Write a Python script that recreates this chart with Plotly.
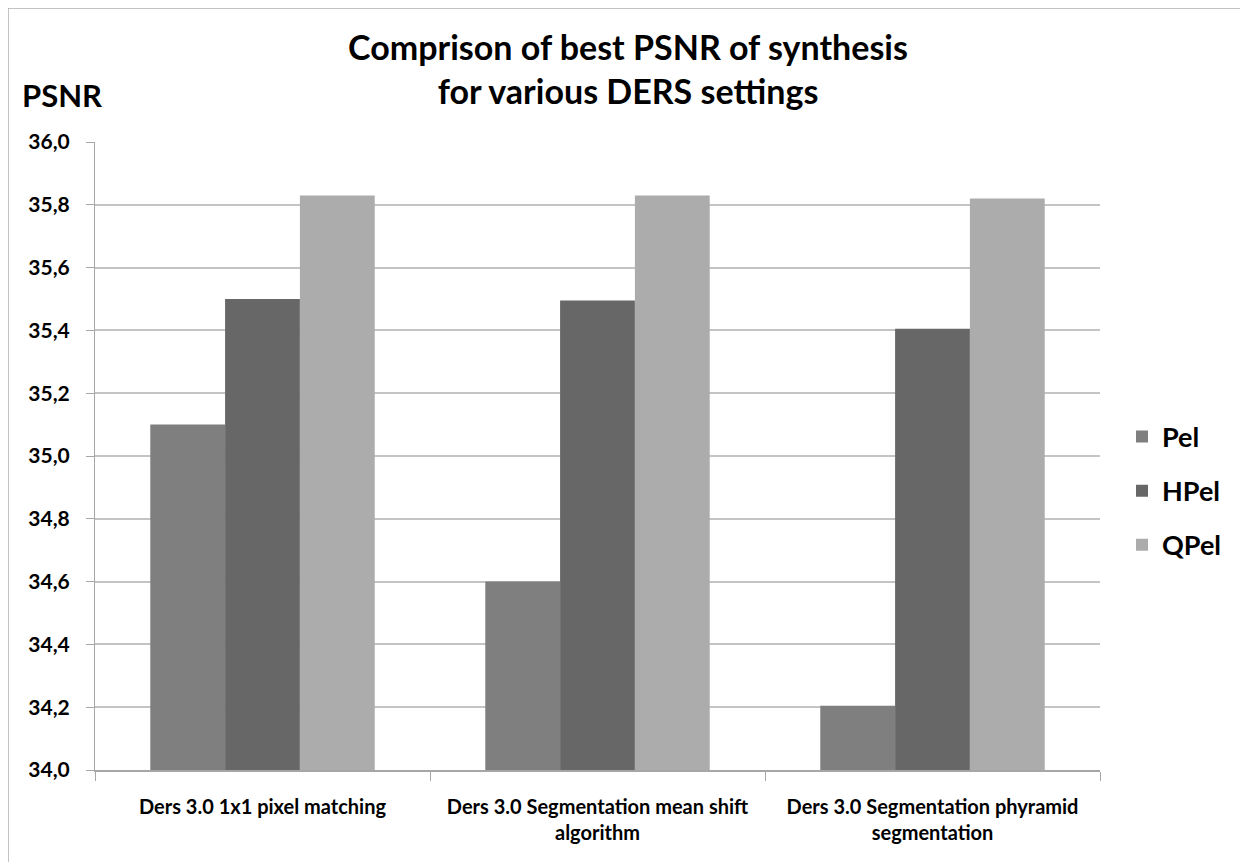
import plotly.graph_objects as go

categories = ["Ders 3.0 1x1 pixel matching",
              "Ders 3.0 Segmentation mean shift<br>algorithm",
              "Ders 3.0 Segmentation phyramid<br>segmentation"]
series_names = ["Pel", "HPel", "QPel"]
pel = [35.10, 34.60, 34.205]
hpel = [35.50, 35.495, 35.405]
qpel = [35.83, 35.83, 35.82]
colors = ["#7f7f7f", "#676767", "#acacac"]
ytick_vals = [34.0, 34.2, 34.4, 34.6, 34.8, 35.0, 35.2, 35.4, 35.6, 35.8, 36.0]

FONT = "Lato, Open Sans, sans-serif"

fig = go.Figure()
for name, vals, col in zip(series_names, [pel, hpel, qpel], colors):
    fig.add_trace(go.Bar(
        x=categories, y=vals, name=name, marker_color=col,
        marker_line_width=0, legendgroup=name,
    ))

# page has an 8px body offset
OFF = 8
W, H = 1240, 854
L, R, T, B = 87, 148, 134, 92
pw = W - L - R
ph = H - T - B


def px_x(p):
    return (p - OFF - L) / pw


def px_y(p):
    return (H - B - (p - OFF)) / ph


fig.update_layout(
    width=W, height=H,
    margin=dict(l=L, r=R, t=T, b=B),
    paper_bgcolor="white", plot_bgcolor="white",
    separators=", ",
    barmode="group", bargap=0.33, bargroupgap=0,
    font=dict(family=FONT, color="black"),
    title=dict(
        text="Comprison of best PSNR of synthesis<br>for various DERS settings",
        x=(628 - OFF) / W, xanchor="center",
        y=1 - (60 - OFF) / H, yanchor="top",
        font=dict(size=34, family=FONT, weight="bold", color="black"),
    ),
    legend=dict(
        x=px_x(1122), xanchor="left", y=px_y(491), yanchor="middle",
        font=dict(size=27, family=FONT, weight="bold"),
        tracegroupgap=16, itemwidth=30,
    ),
    xaxis=dict(
        showgrid=False, showline=True, linecolor="#a6a6a6", linewidth=2,
        ticks="outside", tickson="boundaries", ticklen=9, tickcolor="#a6a6a6",
        tickfont=dict(size=20, family=FONT, weight="bold"),
        ticklabelstandoff=18,
    ),
    yaxis=dict(
        range=[34.0, 36.0], tickvals=ytick_vals, tickformat=".1f",
        showgrid=True, gridcolor="#c4c4c4", gridwidth=2,
        showline=True, linecolor="#a6a6a6", linewidth=1,
        ticks="outside", ticklen=8, tickcolor="#a6a6a6",
        tickfont=dict(size=21, family=FONT, weight="bold"),
        ticklabelstandoff=12,
        zeroline=False,
    ),
    annotations=[dict(
        text="PSNR", xref="paper", yref="paper",
        x=px_x(20), y=px_y(95), xanchor="left", yanchor="middle",
        showarrow=False, font=dict(size=31, family=FONT, weight="bold"),
    )],
    shapes=[dict(
        type="rect", xref="paper", yref="paper",
        x0=px_x(8), x1=px_x(1260), y0=px_y(875), y1=px_y(8),
        line=dict(color="#b0b0b0", width=1.5), layer="below",
    )],
)

fig.write_html("out.html")
